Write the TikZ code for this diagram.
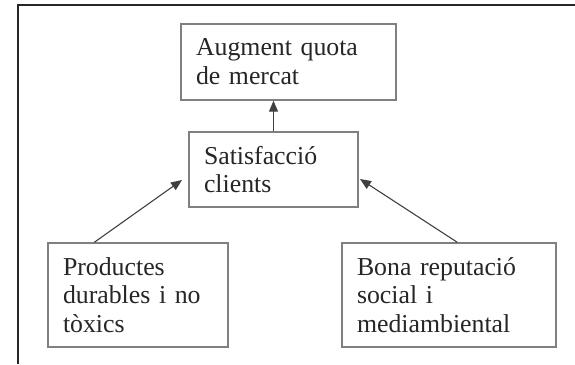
\documentclass[tikz,border=0pt]{standalone}
\usepackage{fontspec}
\setmainfont{Liberation Serif}
\usetikzlibrary{arrows.meta}
\tikzset{
  box/.style={draw=black!50, line width=1.4pt, fill=white, inner xsep=15pt, inner ysep=0pt,
    align=left, text=black!85, font=\fontsize{25.8}{28.8}\selectfont, anchor=center},
  arr/.style={draw=black!75, line width=1.1pt, -{Triangle[length=11pt,width=9pt]}},
  frameline/.style={draw=black!85, line width=2.2pt}
}
\begin{document}
\begin{tikzpicture}[x=1pt,y=-1pt]
\useasboundingbox (0,0) rectangle (575,364);
\draw[frameline] (18,364) -- (18,5) -- (575,5);
\node[box, minimum width=215pt, minimum height=76pt, text width=185pt] (top) at (288.5,62) {Augment quota\\de mercat};
\node[box, minimum width=169pt, minimum height=75pt, text width=139pt] (mid) at (273.5,169.5) {Satisfacció\\clients};
\node[box, minimum width=180pt, minimum height=104pt, text width=150pt] (lb) at (138,295) {Productes\\durables i no\\tòxics};
\node[box, minimum width=214pt, minimum height=104pt, text width=184pt] (rb) at (449,295) {Bona reputació\\social i\\mediambiental};
\coordinate (lt) at (182,180);
\coordinate (rt) at (360,179);
\draw[arr] (mid.north) -- (mid.north |- top.south);
\draw[arr] ([xshift=47pt]lb.north west) -- (lt);
\draw[arr] ([xshift=116pt]rb.north west) -- (rt);
\end{tikzpicture}
\end{document}
